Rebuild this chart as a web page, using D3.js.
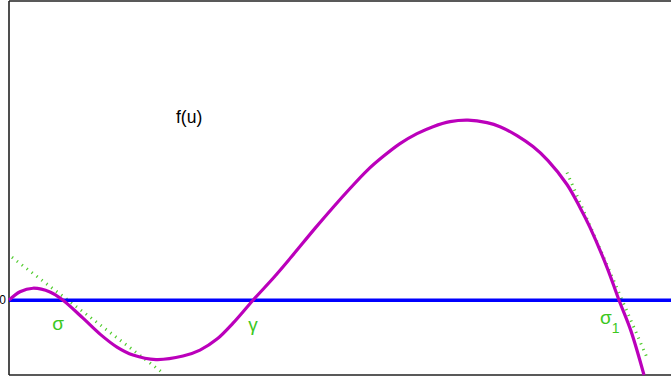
<!DOCTYPE html>
<html>
<head>
<meta charset="utf-8">
<script src="https://cdn.jsdelivr.net/npm/d3@7"></script>
<style>
  html, body { margin: 0; padding: 0; background: #fff; }
  svg { display: block; }
  text { font-family: "Liberation Sans", Arial, sans-serif; }
</style>
</head>
<body>
<svg id="chart" width="671" height="376"></svg>
<script>
// Sampled points of the reaction term f(u)
const uValues = [0, 0.166, 0.363, 0.619, 0.816, 1.118, 1.375, 1.631, 1.873, 2.221, 2.628, 2.885, 3.142, 3.384,
  3.686, 4.003, 4.26, 4.622, 4.894, 5.151, 5.408, 5.65, 5.906, 6.163, 6.405, 6.662, 6.934, 7.221, 7.417,
  7.674, 7.915, 8.142, 8.429, 8.625, 8.776, 9.033, 9.215, 9.396, 9.592];
const fValues = [0, 0.085, 0.12, 0.083, 0, -0.18, -0.34, -0.47, -0.55, -0.595, -0.56, -0.50, -0.39, -0.23,
  0, 0.23, 0.43, 0.72, 0.93, 1.12, 1.30, 1.44, 1.57, 1.67, 1.74, 1.79, 1.805, 1.78, 1.74,
  1.65, 1.54, 1.40, 1.16, 0.93, 0.73, 0.33, 0, -0.31, -0.75];

// Zeros of f and their labels
const rootNames = ["σ", "γ", "σ1"];
const rootU = [0.816, 3.686, 9.215];

// Tangent segments at the stable zeros σ and σ1 (endpoints in u, f)
const tangentU = [[0.045, 2.326], [8.429, 9.653]];
const tangentF = [[0.43, -0.73], [1.28, -0.60]];

const yTickLabels = ["0"];
const yTickValues = [0];

const svg = d3.select("#chart");
const W = 671, H = 376;
const plotLeft = 9, plotTop = 1, plotBottom = 375;

const x = d3.scaleLinear().domain([0, 10]).range([plotLeft, W]);
const y = d3.scaleLinear().domain([-0.75, 3.0]).range([plotBottom, plotTop]);

// Frame (left, top, bottom)
const frame = svg.append("g").attr("stroke", "#222").attr("stroke-width", 1.6).attr("fill", "none");
frame.append("line").attr("x1", plotLeft).attr("x2", plotLeft).attr("y1", plotTop).attr("y2", plotBottom);
frame.append("line").attr("x1", plotLeft).attr("x2", W).attr("y1", plotTop).attr("y2", plotTop);
frame.append("line").attr("x1", plotLeft).attr("x2", W).attr("y1", plotBottom).attr("y2", plotBottom);

// Zero tick label
svg.selectAll("text.ytick").data(yTickValues).join("text")
  .attr("class", "ytick")
  .attr("x", plotLeft - 3)
  .attr("y", d => y(d))
  .attr("dy", "0.35em")
  .attr("text-anchor", "end")
  .attr("font-size", 12)
  .attr("fill", "#000")
  .text((d, i) => yTickLabels[i]);

// Dotted tangent lines (short ticks across the line direction)
const tangents = tangentU.map((us, i) => us.map((u, j) => [u, tangentF[i][j]]));
svg.selectAll("line.tangent").data(tangents).join("line")
  .attr("class", "tangent")
  .attr("x1", d => x(d[0][0])).attr("y1", d => y(d[0][1]))
  .attr("x2", d => x(d[1][0])).attr("y2", d => y(d[1][1]))
  .attr("stroke", "#52cc30")
  .attr("stroke-width", 3)
  .attr("stroke-dasharray", "1.2,5");

// Horizontal axis f = 0
svg.append("line")
  .attr("x1", plotLeft).attr("x2", W)
  .attr("y1", y(0)).attr("y2", y(0))
  .attr("stroke", "#0000ff")
  .attr("stroke-width", 3.5);

// Curve f(u)
const pts = uValues.map((u, i) => [u, fValues[i]]);
svg.append("path")
  .datum(pts)
  .attr("fill", "none")
  .attr("stroke", "#bb00bb")
  .attr("stroke-width", 3.2)
  .attr("d", d3.line().x(d => x(d[0])).y(d => y(d[1])).curve(d3.curveCatmullRom.alpha(0.5)));

// Root labels
const green = "#3cc81e";
const labelOffsets = [[-5, 30], [0, 31], [-19, 24]];
rootNames.forEach((name, i) => {
  const t = svg.append("text")
    .attr("x", x(rootU[i]) + labelOffsets[i][0])
    .attr("y", y(0) + labelOffsets[i][1])
    .attr("text-anchor", "middle")
    .attr("font-size", 19)
    .attr("fill", green);
  if (name === "σ1") {
    t.attr("text-anchor", "start");
    t.append("tspan").text("σ");
    t.append("tspan").attr("font-size", 14).attr("dy", 9).text("1");
  } else {
    t.text(name);
  }
});

// Function name
svg.append("text")
  .attr("x", 176)
  .attr("y", 123)
  .attr("font-size", 17.5)
  .attr("fill", "#000")
  .text("f(u)");
</script>
</body>
</html>
